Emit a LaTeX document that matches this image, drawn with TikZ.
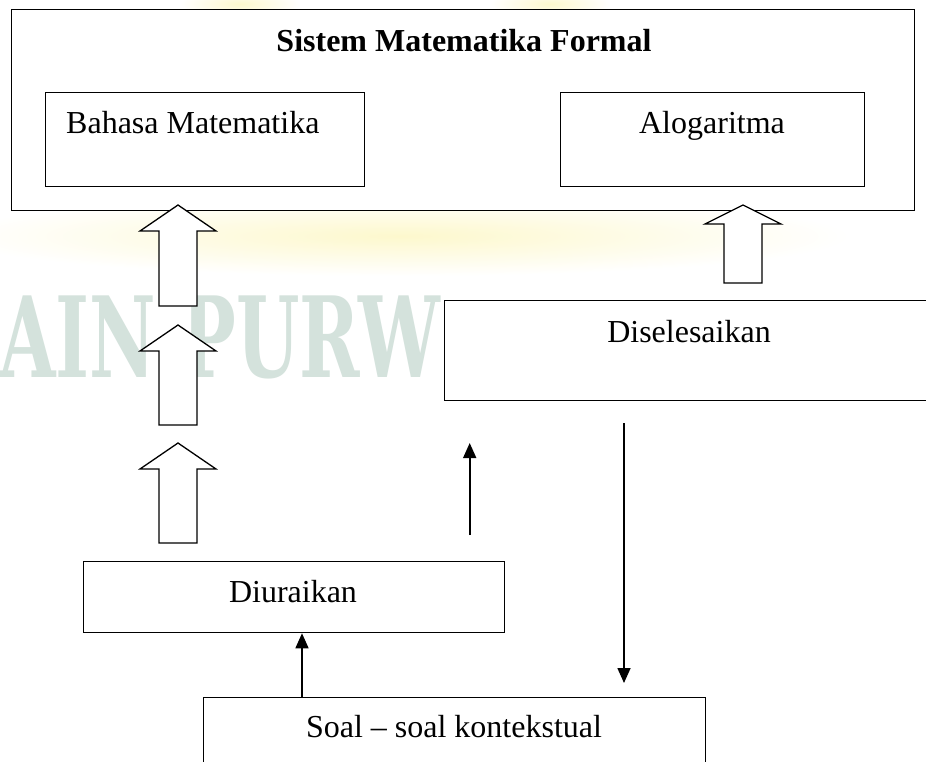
\documentclass[tikz,border=0pt]{standalone}
\usepackage{fontspec}
\setmainfont{Liberation Serif}
\newfontfamily\wmfont{DejaVu Serif}
\usetikzlibrary{arrows.meta}
\definecolor{wm}{RGB}{212,226,220}
\definecolor{swoosh}{RGB}{253,248,205}
\tikzset{
  box/.style={draw=black, line width=1.3pt, fill=white, inner sep=0pt, anchor=north west},
  txt/.style={font=\fontsize{32}{38}\selectfont, inner sep=0pt, anchor=base},
  thinarrow/.style={line width=1.6pt, -{Triangle[length=15pt,width=13pt]}},
  pics/barrow/.style n args={2}{code={%
    \draw[line width=1.3pt, fill=white, line join=miter]
      (0,0) -- (38,#1) -- (19,#1) -- (19,#2) -- (-19,#2) -- (-19,#1) -- (-38,#1) -- cycle;}}
}
\begin{document}
\begin{tikzpicture}[x=1pt,y=-1pt]
\useasboundingbox[fill=white] (0,0) rectangle (926,761);
% faint watermark
\begin{scope}
  \clip (0,0) rectangle (926,761);
  \shade[inner color=swoosh, outer color=white] (400,236) ellipse [x radius=450pt, y radius=40pt];
  \shade[inner color=swoosh, outer color=white] (240,4) ellipse [x radius=60pt, y radius=14pt];
  \shade[inner color=swoosh, outer color=white] (550,4) ellipse [x radius=60pt, y radius=14pt];
  \node[font=\wmfont\bfseries\fontsize{112}{112}\selectfont, text=wm, anchor=base west,
        inner sep=0pt, xscale=0.65] (wmk) at (-1,377) {AIN PURW};
\end{scope}
% boxes
\node[box, minimum width=903pt, minimum height=201pt] (outer) at (11,9) {};
\node[box, minimum width=319pt, minimum height=94pt] (bahasa) at (45,92) {};
\node[box, minimum width=304pt, minimum height=94pt] (algo) at (560,92) {};
\node[box, minimum width=520pt, minimum height=100pt] (sel) at (444,300) {};
\node[box, minimum width=421pt, minimum height=71pt] (diur) at (83,561) {};
\node[box, minimum width=502pt, minimum height=100pt] (soal) at (203,697) {};
% texts
\node[txt, font=\fontsize{32}{38}\selectfont\bfseries] (title) at (464,51) {Sistem Matematika Formal};
\node[txt, anchor=base west] (bahasat) at (66,133) {Bahasa Matematika};
\node[txt] (algot) at (712,133) {Alogaritma};
\node[txt] (selt) at (689,342) {Diselesaikan};
\node[txt] (diurt) at (293,602) {Diuraikan};
\node[txt] (soalt) at (454,737) {Soal -- soal kontekstual};
% block arrows
\pic at (178,205) {barrow={26}{101}};
\pic at (178,325) {barrow={26}{100}};
\pic at (178,443) {barrow={26}{100}};
\pic at (743,205) {barrow={19}{78}};
% thin arrows
\coordinate (c1) at (302,0);
\draw[thinarrow] (c1 |- soal.north) -- (c1 |- diur.south);
\coordinate (m1) at (469.7,535);
\coordinate (m2) at (469.7,443);
\draw[thinarrow] (m1) -- (m2);
\coordinate (d1) at (624,423);
\coordinate (d2) at (624,683);
\draw[thinarrow] (d1) -- (d2);
\end{tikzpicture}
\end{document}
